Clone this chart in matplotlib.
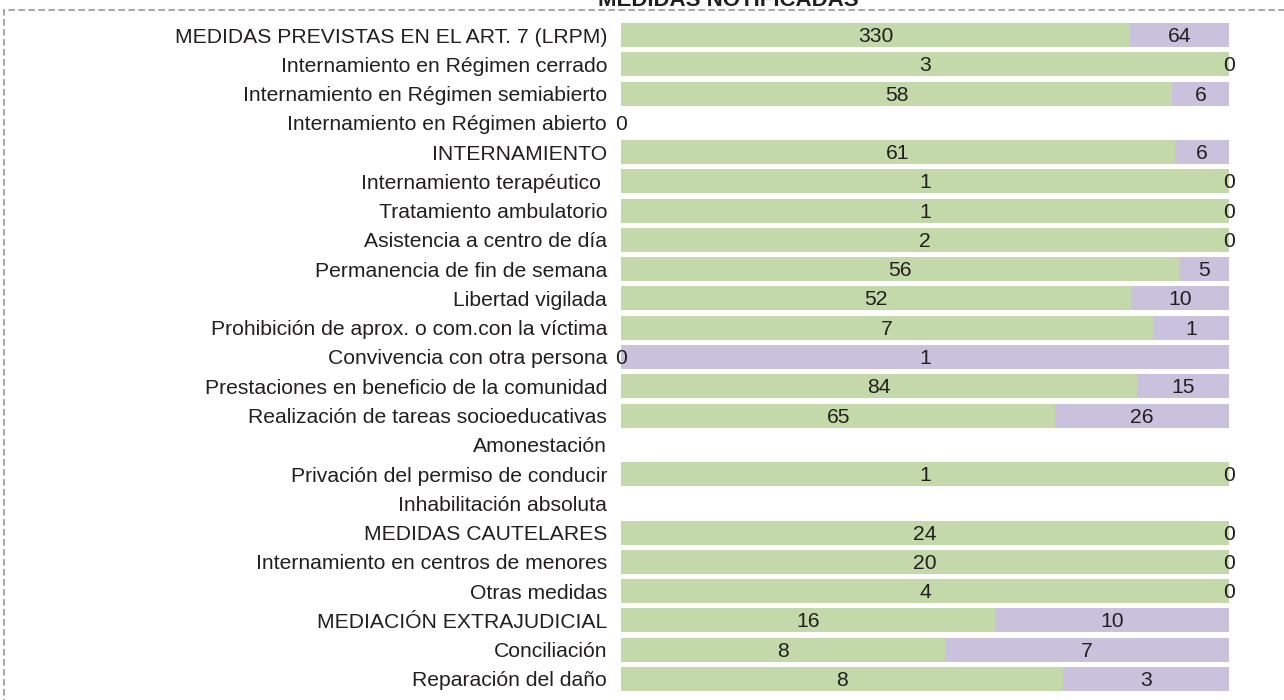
import numpy as np
import matplotlib.pyplot as plt
from matplotlib.patches import Rectangle

plt.rcParams['font.family'] = ['Liberation Sans', 'DejaVu Sans']

labels = [
    'MEDIDAS PREVISTAS EN EL ART. 7 (LRPM)',
    'Internamiento en Régimen cerrado',
    'Internamiento en Régimen semiabierto',
    'Internamiento en Régimen abierto',
    'INTERNAMIENTO',
    'Internamiento terapéutico ',
    'Tratamiento ambulatorio',
    'Asistencia a centro de día',
    'Permanencia de fin de semana',
    'Libertad vigilada',
    'Prohibición de aprox. o com.con la víctima',
    'Convivencia con otra persona',
    'Prestaciones en beneficio de la comunidad',
    'Realización de tareas socioeducativas',
    'Amonestación',
    'Privación del permiso de conducir',
    'Inhabilitación absoluta',
    'MEDIDAS CAUTELARES',
    'Internamiento en centros de menores',
    'Otras medidas',
    'MEDIACIÓN EXTRAJUDICIAL',
    'Conciliación',
    'Reparación del daño',
]
serie1 = [330, 3, 58, 0, 61, 1, 1, 2, 56, 52, 7, 0, 84, 65, np.nan, 1, np.nan, 24, 20, 4, 16, 8, 8]
serie2 = [64, 0, 6, 0, 6, 0, 0, 0, 5, 10, 1, 1, 15, 26, np.nan, 0, np.nan, 0, 0, 0, 10, 7, 3]

VERDE = '#c3d9a9'
MORADO = '#cac1dc'
TEXTO = '#231f20'
FS = 15.2

W, H = 1284, 700
fig = plt.figure(figsize=(W / 100, H / 100), dpi=100)

# borde discontinuo (recortado arriba a la derecha y abajo)
fig.patches.append(Rectangle((4 / W, -0.05), 1.2, 1 - 10 / H + 0.05, transform=fig.transFigure,
                             fill=False, edgecolor='#9a9a9a', lw=1.2, ls=(0, (4, 2))))
# el título queda cortado por arriba, como en el original
fig.text(728 / W, 1 - 6 / H, 'MEDIDAS NOTIFICADAS', ha='center', va='baseline',
         fontsize=16, fontweight='bold', color=TEXTO)

top_px, bot_px = 20.4, 693.6
ax = fig.add_axes([621 / W, 1 - bot_px / H, 608 / W, (bot_px - top_px) / H])

a = np.array(serie1, dtype=float)
b = np.array(serie2, dtype=float)
tot = a + b
with np.errstate(invalid='ignore', divide='ignore'):
    pa = np.where(tot > 0, a / tot, 0)
    pb = np.where(tot > 0, b / tot, 0)
y = np.arange(len(labels))

ok = ~np.isnan(tot) & (tot > 0)
ax.barh(y[ok], pa[ok], height=0.82, color=VERDE)
ax.barh(y[ok], pb[ok], left=pa[ok], height=0.82, color=MORADO)

for i in range(len(labels)):
    if np.isnan(tot[i]):
        continue
    if tot[i] == 0:
        ax.text(0, i + 0.05, '0', ha='center', va='center', fontsize=FS, color=TEXTO)
        continue
    ax.text(pa[i] / 2, i + 0.05, f'{int(a[i])}', ha='center', va='center', fontsize=FS, color=TEXTO)
    ax.text(pa[i] + pb[i] / 2, i + 0.05, f'{int(b[i])}', ha='center', va='center', fontsize=FS, color=TEXTO)

ax.set_xlim(0, 1)
ax.set_ylim(len(labels) - 0.5, -0.5)
ax.set_yticks(y)
ax.set_yticklabels(labels, fontsize=FS, color=TEXTO)
ax.tick_params(axis='y', length=0, pad=10)
ax.set_xticks([])
for s in ax.spines.values():
    s.set_visible(False)
ax.patch.set_alpha(0)

fig.savefig('out.png', dpi=100)
